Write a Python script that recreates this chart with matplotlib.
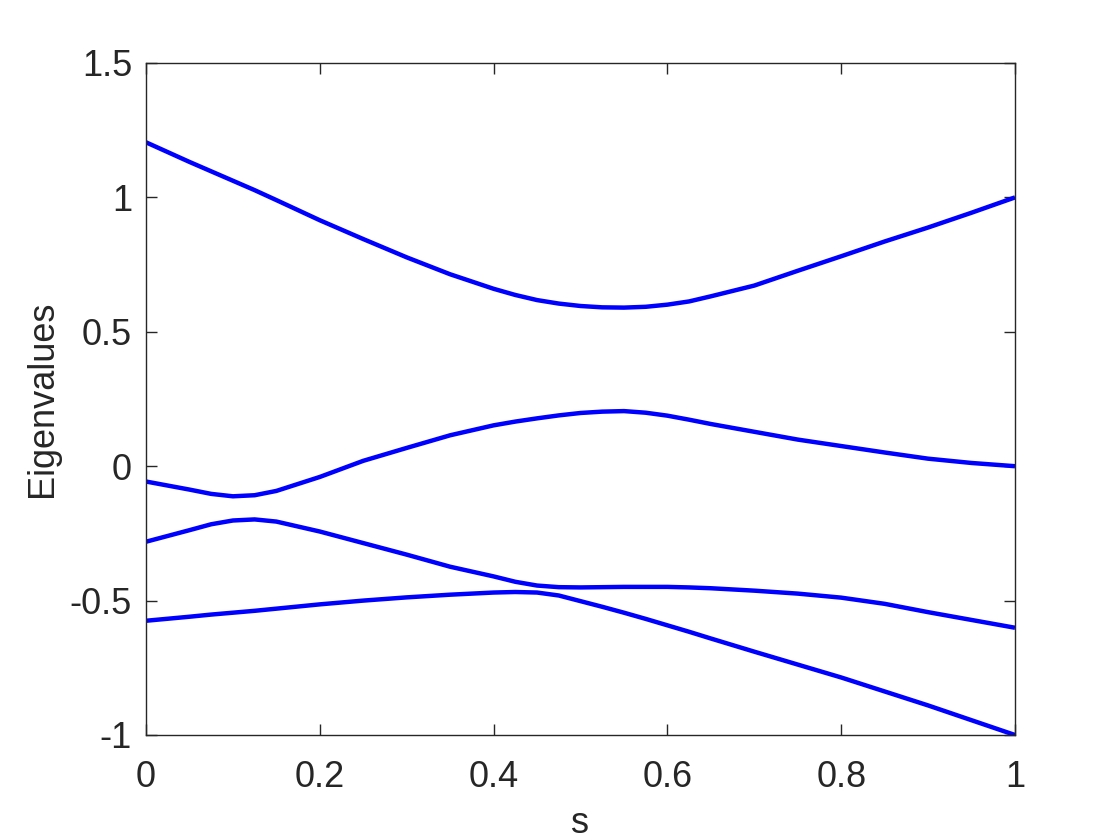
import matplotlib
matplotlib.use("Agg")
import matplotlib.pyplot as plt

s_values = [0.0, 0.05, 0.075, 0.1, 0.125, 0.15, 0.2, 0.25, 0.3, 0.35, 0.4, 0.425, 0.45,
            0.475, 0.5, 0.525, 0.55, 0.575, 0.6, 0.625, 0.65, 0.7, 0.75, 0.8, 0.85, 0.9, 0.95, 1.0]

eig_1 = [1.205, 1.132, 1.097, 1.062, 1.027, 0.990, 0.915, 0.845, 0.777, 0.714, 0.660, 0.637, 0.618,
         0.605, 0.596, 0.591, 0.590, 0.593, 0.601, 0.613, 0.632, 0.672, 0.727, 0.781, 0.836, 0.888, 0.943, 1.000]
eig_2 = [-0.057, -0.087, -0.103, -0.112, -0.108, -0.092, -0.040, 0.020, 0.068, 0.115, 0.152, 0.166, 0.178,
         0.189, 0.198, 0.203, 0.205, 0.199, 0.188, 0.173, 0.157, 0.128, 0.099, 0.075, 0.051, 0.028, 0.012, 0.000]
eig_3 = [-0.281, -0.238, -0.216, -0.202, -0.198, -0.206, -0.243, -0.286, -0.329, -0.374, -0.410, -0.430, -0.444,
         -0.450, -0.451, -0.450, -0.449, -0.449, -0.449, -0.451, -0.454, -0.463, -0.474, -0.489, -0.512, -0.543,
         -0.572, -0.601]
eig_4 = [-0.575, -0.560, -0.552, -0.545, -0.538, -0.530, -0.514, -0.500, -0.488, -0.478, -0.470, -0.468, -0.470,
         -0.481, -0.502, -0.523, -0.545, -0.568, -0.592, -0.616, -0.641, -0.690, -0.738, -0.786, -0.838, -0.890,
         -0.945, -1.000]

x_ticks = [0, 0.2, 0.4, 0.6, 0.8, 1]
x_tick_labels = ["0", "0.2", "0.4", "0.6", "0.8", "1"]
y_ticks = [-1, -0.5, 0, 0.5, 1, 1.5]
y_tick_labels = ["-1", "-0.5", "0", "0.5", "1", "1.5"]

plt.rcParams['font.family'] = ['Liberation Sans', 'DejaVu Sans']

fig = plt.figure(figsize=(11.2, 8.4), dpi=100)
ax = fig.add_axes([146/1120, 105/840, (1015-146)/1120, (735-63)/840])

for ev in (eig_1, eig_2, eig_3, eig_4):
    ax.plot(s_values, ev, color='#0000ff', linewidth=3.2, solid_capstyle='butt',
            solid_joinstyle='round')

ax.set_xlim(0, 1)
ax.set_ylim(-1, 1.5)
ax.set_xticks(x_ticks)
ax.set_xticklabels(x_tick_labels)
ax.set_yticks(y_ticks)
ax.set_yticklabels(y_tick_labels)

edge = '#262626'
for sp in ax.spines.values():
    sp.set_color(edge)
    sp.set_linewidth(1.0)
ax.tick_params(direction='in', length=8, width=1.0, colors=edge, labelsize=26,
               top=True, right=True)
ax.tick_params(axis='x', pad=18)
ax.tick_params(axis='y', pad=10)
ax.set_xlabel('s', fontsize=26, color=edge, labelpad=8)
ax.set_ylabel('Eigenvalues', fontsize=26, color=edge, labelpad=7)

fig.savefig('out.png', dpi=100, facecolor='white')
